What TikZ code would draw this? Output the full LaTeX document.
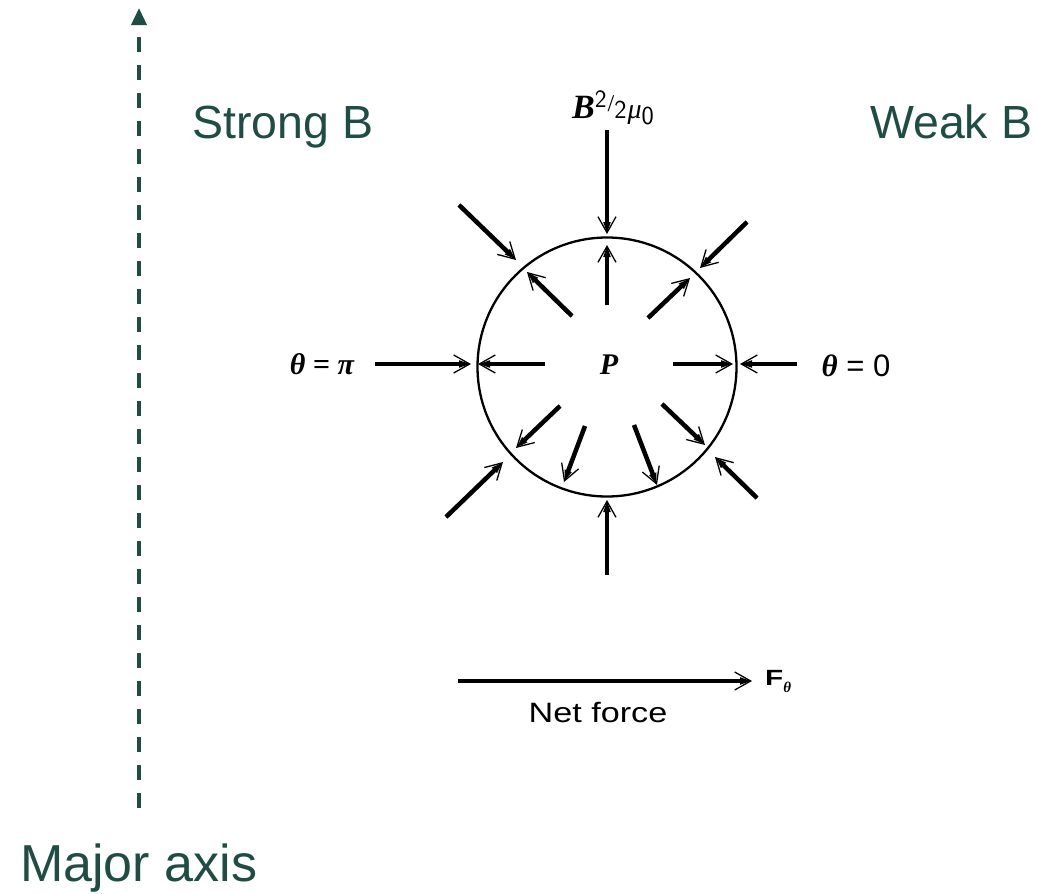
\documentclass[tikz,border=0pt]{standalone}
\usepackage{fontspec}
\setmainfont{Liberation Sans}
\newfontfamily\tserif{Liberation Serif}
\usetikzlibrary{arrows.meta}
\definecolor{axisgreen}{RGB}{31,77,68}
\begin{document}
\begin{tikzpicture}[x=1pt,y=-1pt,
  force/.style={line width=4.5pt, -{Triangle[length=12pt,width=6.5pt]},
    postaction={draw, line width=1.3pt, -{Straight Barb[length=16pt,width=18pt]}}},
  greenlab/.style={text=axisgreen, font=\fontsize{46.5}{50}\selectfont, inner sep=0pt},
  blacklab/.style={text=black, inner sep=0pt}]
\useasboundingbox (0,0) rectangle (1039,894);

% major axis
\coordinate (axb) at (139,808);
\coordinate (axt) at (139,8);
\draw[axisgreen, line width=3.5pt, dash pattern=on 15pt off 13pt,
  -{Triangle[length=17pt,width=15pt]}] (axb) -- (axt);

\node[greenlab, anchor=base west] (strong) at (192,138) {Strong B};
\node[greenlab, anchor=base west] (weak) at (870,138) {Weak B};
\node[greenlab, anchor=base west, font=\fontsize{52}{56}\selectfont] (major) at (20,881) {Major axis};

% circle
\node[circle, draw, line width=2.3pt, minimum size=259pt, inner sep=0pt] (c) at (607,367) {};
\node[blacklab, font=\tserif\bfseries\itshape\fontsize{30}{32}\selectfont] (P) at (609,365) {P};

% label B^2/2mu0
\node[blacklab, anchor=base] (Blab) at (613,118) {\tserif\bfseries\itshape\fontsize{34}{36}\selectfont B\raisebox{11pt}{\fontsize{25}{26}\selectfont\sffamily\mdseries\upshape 2}\hspace{1pt}\raisebox{7pt}{\fontsize{24}{26}\selectfont\mdseries\upshape/}{\fontsize{26}{28}\selectfont\mdseries\sffamily\upshape 2}\hspace{1pt}{\fontsize{28}{30}\selectfont\mdseries\itshape μ}\raisebox{-6pt}{\fontsize{26}{28}\selectfont\mdseries\sffamily\upshape 0}};

% theta labels
\node[blacklab, font=\tserif\bfseries\fontsize{30}{32}\selectfont] (tpi) at (322,364) {\itshape θ\upshape\ = \itshape π};
\node[blacklab, font=\fontsize{31}{33}\selectfont] (tzero) at (856,366) {{\tserif\bfseries\itshape θ} = 0};

% outer arrows
\coordinate (o1s) at (607,130); \coordinate (o1e) at (607,234);
\coordinate (o2s) at (459,205); \coordinate (o2e) at (516,260);
\coordinate (o3s) at (747,222); \coordinate (o3e) at (700,268);
\coordinate (o4s) at (375,364); \coordinate (o4e) at (471,364);
\coordinate (o5s) at (797,364); \coordinate (o5e) at (740,364);
\coordinate (o6s) at (446,517); \coordinate (o6e) at (503,462);
\coordinate (o7s) at (757,498); \coordinate (o7e) at (715,457);
\coordinate (o8s) at (607,575); \coordinate (o8e) at (607,500);
\foreach \i in {1,...,8} \draw[force] (o\i s) -- (o\i e);

% inner arrows
\coordinate (i1s) at (607,305); \coordinate (i1e) at (607,245);
\coordinate (i2s) at (572,316); \coordinate (i2e) at (527,272);
\coordinate (i3s) at (648,318); \coordinate (i3e) at (690,278);
\coordinate (i4s) at (545,364); \coordinate (i4e) at (478,364);
\coordinate (i5s) at (673,364); \coordinate (i5e) at (733,364);
\coordinate (i6s) at (560,406); \coordinate (i6e) at (516,448);
\coordinate (i7s) at (585,426); \coordinate (i7e) at (564,482);
\coordinate (i8s) at (634,425); \coordinate (i8e) at (657,485);
\coordinate (i9s) at (662,404); \coordinate (i9e) at (705,445);
\foreach \i in {1,...,9} \draw[force] (i\i s) -- (i\i e);

% net force
\coordinate (nfs) at (458,681);
\coordinate (nfe) at (752,681);
\node[blacklab, anchor=west, font=\bfseries\fontsize{22}{24}\selectfont] (F) at (765,681) {\scalebox{1.35}[1]{F}\raisebox{-7pt}{\tserif\itshape\fontsize{15}{16}\selectfont θ}};
\draw[force, line width=4pt] (nfs) -- (nfe);
\node[blacklab, font=\fontsize{28}{30}\selectfont] (net) at (598,712) {\scalebox{1.22}[1]{Net force}};
\end{tikzpicture}
\end{document}
